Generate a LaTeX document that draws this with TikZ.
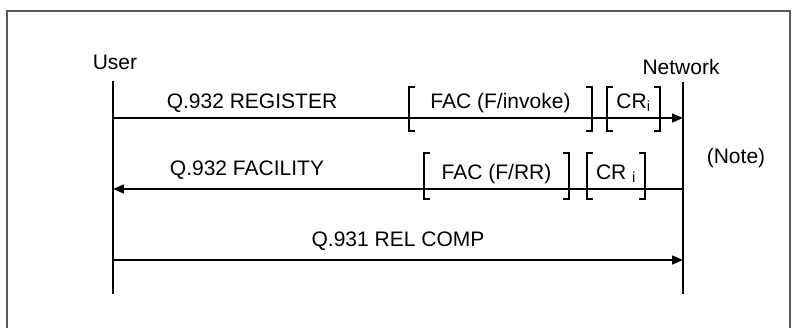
\documentclass[tikz,border=0pt]{standalone}
\usepackage{fontspec}
\setmainfont{Liberation Sans}
\usetikzlibrary{arrows.meta}
\tikzset{
  life/.style={line width=1.5pt},
  msg/.style={line width=1.5pt,-{Triangle[length=11pt,width=9pt]}},
  lbl/.style={font=\fontsize{21}{25}\selectfont,inner sep=0pt},
  iebox/.style={lbl,minimum width=#1,inner xsep=0pt,inner ysep=0pt},
}
\begin{document}
\begin{tikzpicture}[x=1pt,y=-1pt]
 \useasboundingbox (0,0) rectangle (792,327);
 \draw [gray!70!black, line width=1.2pt] (7,11) rectangle (790,340);

 \node [lbl] (user) at (115,62.5) {User};
 \node [lbl] (network) at (681,67) {Network};
 \node [lbl] (note) at (736,158.5) {(Note)};

 \coordinate (utop) at (113,81);  \coordinate (ubot) at (113,294);
 \coordinate (ntop) at (683,82);  \coordinate (nbot) at (683,294);
 \draw [life] (utop) -- (ubot);
 \draw [life] (ntop) -- (nbot);

 \coordinate (u1) at (113,118); \coordinate (n1) at (683,118);
 \coordinate (u2) at (113,189); \coordinate (n2) at (683,189);
 \coordinate (u3) at (113,260); \coordinate (n3) at (683,260);

 \draw [msg] (u1) -- (n1);
 \draw [msg] (n2) -- (u2);
 \draw [msg] (u3) -- (n3);

 \node [lbl] (register) at (252,103.5) {Q.932 REGISTER};
 \node [lbl] (facility) at (247,170.5) {Q.932 FACILITY};
 \node [lbl] (relcomp) at (398,241.5) {Q.931 REL COMP};

 \node [iebox=183pt, text height=21pt, text depth=23pt] (fac1) at (500.5,109) {FAC (F/invoke)};
 \node [iebox=53pt, text height=21pt, text depth=23pt] (cr1) at (633.5,109) {CR\textsubscript{i}};
 \node [iebox=145pt, text height=26pt, text depth=20pt] (fac2) at (496.5,176) {FAC (F/RR)};
 \node [iebox=58pt, text height=26pt, text depth=20pt] (cr2) at (616,176) {CR \textsubscript{i}};

 \foreach \b in {fac1,cr1,fac2,cr2}
  \draw [life] ([xshift=6pt]\b.north west) -- (\b.north west) -- (\b.south west) -- ++(6,0)
   ([xshift=-6pt]\b.north east) -- (\b.north east) -- (\b.south east) -- ++(-6,0);
\end{tikzpicture}
\end{document}
